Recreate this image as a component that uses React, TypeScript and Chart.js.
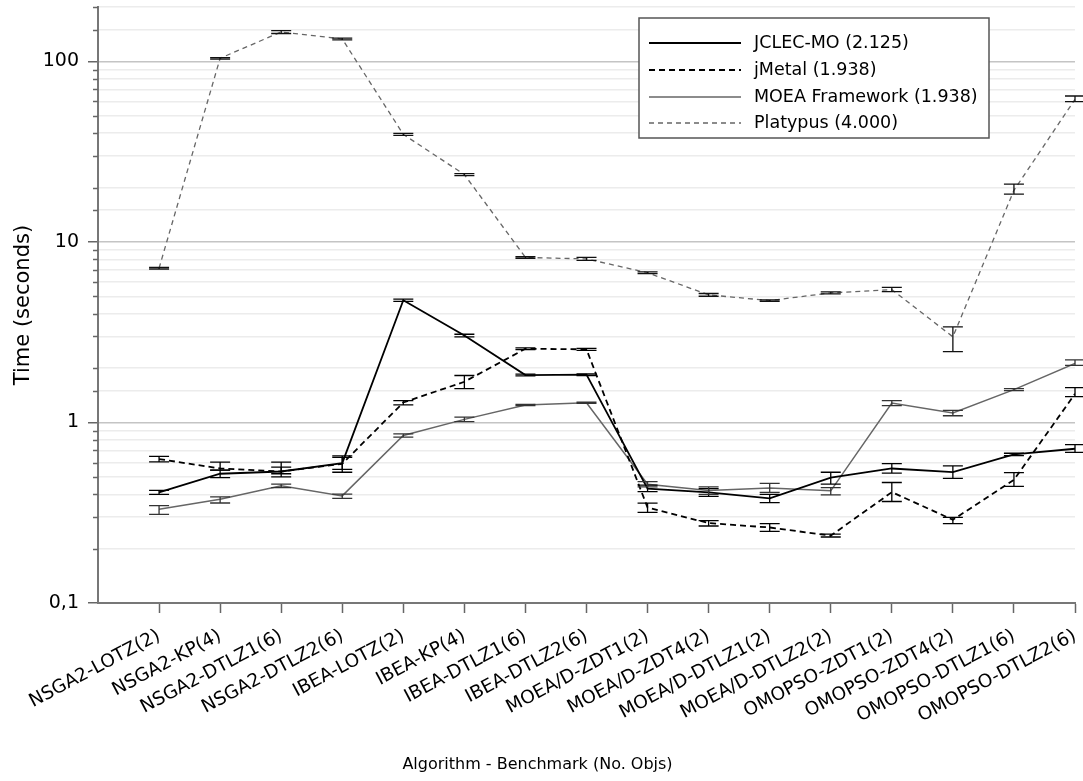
import React, { useEffect, useRef } from "react";
import { Chart, registerables } from "chart.js";

Chart.register(...registerables);

const categories = [
  "NSGA2-LOTZ(2)", "NSGA2-KP(4)", "NSGA2-DTLZ1(6)", "NSGA2-DTLZ2(6)",
  "IBEA-LOTZ(2)", "IBEA-KP(4)", "IBEA-DTLZ1(6)", "IBEA-DTLZ2(6)",
  "MOEA/D-ZDT1(2)", "MOEA/D-ZDT4(2)", "MOEA/D-DTLZ1(2)", "MOEA/D-DTLZ2(2)",
  "OMOPSO-ZDT1(2)", "OMOPSO-ZDT4(2)", "OMOPSO-DTLZ1(6)", "OMOPSO-DTLZ2(6)",
];

const jclecMean = [0.41, 0.52, 0.535, 0.595, 4.75, 3.03, 1.83, 1.84, 0.43, 0.41, 0.38, 0.495, 0.556, 0.531, 0.665, 0.715];
const jclecLow = [0.40, 0.495, 0.50, 0.55, 4.68, 2.98, 1.81, 1.82, 0.414, 0.39, 0.36, 0.455, 0.524, 0.49, 0.655, 0.682];
const jclecHigh = [0.42, 0.545, 0.565, 0.64, 4.82, 3.08, 1.85, 1.86, 0.45, 0.43, 0.40, 0.53, 0.592, 0.575, 0.675, 0.753];

const jmetalMean = [0.627, 0.556, 0.535, 0.59, 1.29, 1.68, 2.56, 2.54, 0.338, 0.277, 0.262, 0.236, 0.411, 0.289, 0.481, 1.44];
const jmetalLow = [0.605, 0.545, 0.52, 0.53, 1.25, 1.54, 2.53, 2.51, 0.318, 0.267, 0.249, 0.232, 0.365, 0.275, 0.443, 1.39];
const jmetalHigh = [0.648, 0.603, 0.603, 0.653, 1.32, 1.82, 2.59, 2.57, 0.357, 0.286, 0.275, 0.241, 0.465, 0.298, 0.528, 1.56];

const moeaMean = [0.331, 0.376, 0.446, 0.392, 0.847, 1.04, 1.25, 1.286, 0.455, 0.42, 0.433, 0.418, 1.28, 1.13, 1.52, 2.125];
const moeaLow = [0.31, 0.358, 0.436, 0.38, 0.83, 1.01, 1.24, 1.275, 0.44, 0.40, 0.41, 0.397, 1.24, 1.089, 1.50, 2.07];
const moeaHigh = [0.346, 0.387, 0.455, 0.401, 0.865, 1.07, 1.26, 1.297, 0.47, 0.44, 0.46, 0.436, 1.32, 1.166, 1.54, 2.22];

const platMean = [7.15, 104, 145.5, 133, 39.4, 23.6, 8.2, 8.05, 6.75, 5.09, 4.73, 5.22, 5.44, 2.98, 19.3, 61.6];
const platLow = [7.08, 103, 142.6, 131.5, 38.9, 23.3, 8.12, 7.9, 6.68, 5.0, 4.68, 5.15, 5.3, 2.47, 18.4, 59.8];
const platHigh = [7.22, 105, 148, 134.5, 39.9, 23.9, 8.28, 8.2, 6.82, 5.18, 4.78, 5.29, 5.6, 3.38, 20.9, 64.3];

const seriesLabels = ["JCLEC-MO (2.125)", "jMetal (1.938)", "MOEA Framework (1.938)", "Platypus (4.000)"];
const yTickLabels: Record<string, string> = { "0.1": "0,1", "1": "1", "10": "10", "100": "100" };

const FONT = "'DejaVu Sans', sans-serif";

const isMajor = (v: number) => {
  const l = Math.log10(v);
  return Math.abs(l - Math.round(l)) < 1e-9;
};

const toPoints = (arr: number[]) => arr.map((v, i) => ({ x: i + 1, y: v }));

const errorBarsPlugin = {
  id: "errorBars",
  afterDatasetsDraw(chart: any) {
    const { ctx } = chart;
    const xs = chart.scales.x;
    const ys = chart.scales.y;
    chart.data.datasets.forEach((ds: any) => {
      ctx.save();
      ctx.strokeStyle = ds.errColor;
      ctx.lineWidth = 1.3;
      ctx.setLineDash([]);
      ds.errLow.forEach((lo: number, i: number) => {
        const hi = ds.errHigh[i];
        const px = xs.getPixelForValue(i + 1);
        const pl = ys.getPixelForValue(lo);
        const ph = ys.getPixelForValue(hi);
        ctx.beginPath();
        ctx.moveTo(px, pl);
        ctx.lineTo(px, ph);
        ctx.moveTo(px - 10, pl);
        ctx.lineTo(px + 10, pl);
        ctx.moveTo(px - 10, ph);
        ctx.lineTo(px + 10, ph);
        ctx.stroke();
      });
      ctx.restore();
    });
  },
};

const minorTicksPlugin = {
  id: "minorTicks",
  afterDraw(chart: any) {
    const { ctx } = chart;
    const ys = chart.scales.y;
    ctx.save();
    ctx.strokeStyle = "#666";
    ctx.lineWidth = 1.5;
    ys.ticks.forEach((t: any) => {
      if (isMajor(t.value)) return;
      const py = Math.round(ys.getPixelForValue(t.value)) + 0.5;
      ctx.beginPath();
      ctx.moveTo(ys.right - 5, py);
      ctx.lineTo(ys.right, py);
      ctx.stroke();
    });
    ctx.restore();
  },
};

const boxLegendPlugin = {
  id: "boxLegend",
  afterDraw(chart: any) {
    const { ctx } = chart;
    const left = 639, top = 18, right = 989, bottom = 138;
    ctx.save();
    ctx.fillStyle = "#fff";
    ctx.fillRect(left, top, right - left, bottom - top);
    ctx.strokeStyle = "#555";
    ctx.lineWidth = 1.5;
    ctx.strokeRect(left, top, right - left, bottom - top);
    const rows = [43, 70, 97, 123];
    chart.data.datasets.forEach((ds: any, i: number) => {
      const y = rows[i];
      ctx.strokeStyle = ds.borderColor;
      ctx.lineWidth = ds.borderWidth;
      ctx.setLineDash(ds.borderDash || []);
      ctx.beginPath();
      ctx.moveTo(649, y);
      ctx.lineTo(741, y);
      ctx.stroke();
      ctx.setLineDash([]);
      ctx.fillStyle = "#000";
      ctx.font = `17.5px ${FONT}`;
      ctx.textAlign = "left";
      ctx.textBaseline = "middle";
      ctx.fillText(ds.label, 754, y);
    });
    ctx.restore();
  },
};

export default function App() {
  const canvasRef = useRef<HTMLCanvasElement | null>(null);

  useEffect(() => {
    if (!canvasRef.current) return;
    Chart.defaults.font.family = FONT;
    Chart.defaults.color = "#000";
    const chart = new Chart(canvasRef.current, {
      type: "line",
      data: {
        datasets: [
          {
            label: seriesLabels[0],
            data: toPoints(jclecMean),
            borderColor: "#000",
            borderWidth: 1.8,
            pointRadius: 0,
            tension: 0,
            errLow: jclecLow,
            errHigh: jclecHigh,
            errColor: "#000",
          } as any,
          {
            label: seriesLabels[1],
            data: toPoints(jmetalMean),
            borderColor: "#000",
            borderWidth: 1.8,
            borderDash: [6, 4],
            pointRadius: 0,
            tension: 0,
            errLow: jmetalLow,
            errHigh: jmetalHigh,
            errColor: "#000",
          } as any,
          {
            label: seriesLabels[2],
            data: toPoints(moeaMean),
            borderColor: "#666",
            borderWidth: 1.5,
            pointRadius: 0,
            tension: 0,
            errLow: moeaLow,
            errHigh: moeaHigh,
            errColor: "#333",
          } as any,
          {
            label: seriesLabels[3],
            data: toPoints(platMean),
            borderColor: "#666",
            borderWidth: 1.3,
            borderDash: [5, 4],
            pointRadius: 0,
            tension: 0,
            errLow: platLow,
            errHigh: platHigh,
            errColor: "#111",
          } as any,
        ],
      },
      options: {
        animation: false,
        responsive: false,
        maintainAspectRatio: false,
        layout: { padding: { top: 7, right: 8, left: 0, bottom: 0 } },
        plugins: {
          legend: { display: false },
          tooltip: { enabled: false },
          title: {
            display: true,
            position: "bottom",
            text: "Algorithm - Benchmark (No. Objs)",
            color: "#000",
            font: { size: 16, weight: "normal", family: FONT },
            padding: { top: 0, bottom: 7 },
          },
        },
        scales: {
          x: {
            type: "linear",
            min: 0,
            max: 16,
            afterFit: (scale: any) => {
              scale.height = 781 - 603 - (16 * 1.2 + 7);
              scale.paddingLeft = 0;
              scale.paddingRight = 0;
              scale.paddingTop = 0;
              scale.paddingBottom = 0;
            },
            border: { color: "#777", width: 2 },
            grid: {
              drawOnChartArea: false,
              drawTicks: true,
              tickLength: 10,
              tickWidth: 1.5,
              tickColor: (c: any) => (c.tick && c.tick.value === 0 ? "rgba(0,0,0,0)" : "#666"),
            },
            ticks: {
              stepSize: 1,
              autoSkip: false,
              maxRotation: 28,
              minRotation: 28,
              padding: 12,
              color: "#000",
              font: { size: 18.5, family: FONT },
              callback: (v: any) => (v >= 1 && v <= 16 ? categories[v - 1] : ""),
            },
          },
          y: {
            type: "logarithmic",
            min: 0.1,
            max: 200,
            afterFit: (scale: any) => {
              scale.width = 98;
              scale.paddingTop = 0;
              scale.paddingBottom = 0;
              scale.paddingLeft = 0;
              scale.paddingRight = 0;
            },
            border: { color: "#777", width: 2 },
            grid: {
              color: (c: any) => (c.tick && isMajor(c.tick.value) ? "#c4c4c4" : "#ececec"),
              lineWidth: 1.5,
              drawTicks: true,
              tickLength: 10,
              tickWidth: 1.5,
              tickColor: (c: any) => (c.tick && isMajor(c.tick.value) ? "#666" : "rgba(0,0,0,0)"),
            },
            ticks: {
              autoSkip: false,
              padding: 9,
              color: "#000",
              font: { size: 19, family: FONT },
              callback: (v: any) => {
                if (!isMajor(v)) return "";
                const key = String(Number(v.toPrecision(6)));
                return yTickLabels[key] ?? "";
              },
            },
            title: {
              display: true,
              text: "Time (seconds)",
              color: "#000",
              font: { size: 21, family: FONT },
              padding: { top: 11, bottom: 0 },
            },
          },
        },
      },
      plugins: [errorBarsPlugin, minorTicksPlugin, boxLegendPlugin],
    } as any);
    return () => chart.destroy();
  }, []);

  return (
    <div style={{ position: "fixed", left: 0, top: 0, width: 1083, height: 781, background: "#fff" }}>
      <canvas ref={canvasRef} width={1083} height={781} style={{ display: "block" }} />
    </div>
  );
}
